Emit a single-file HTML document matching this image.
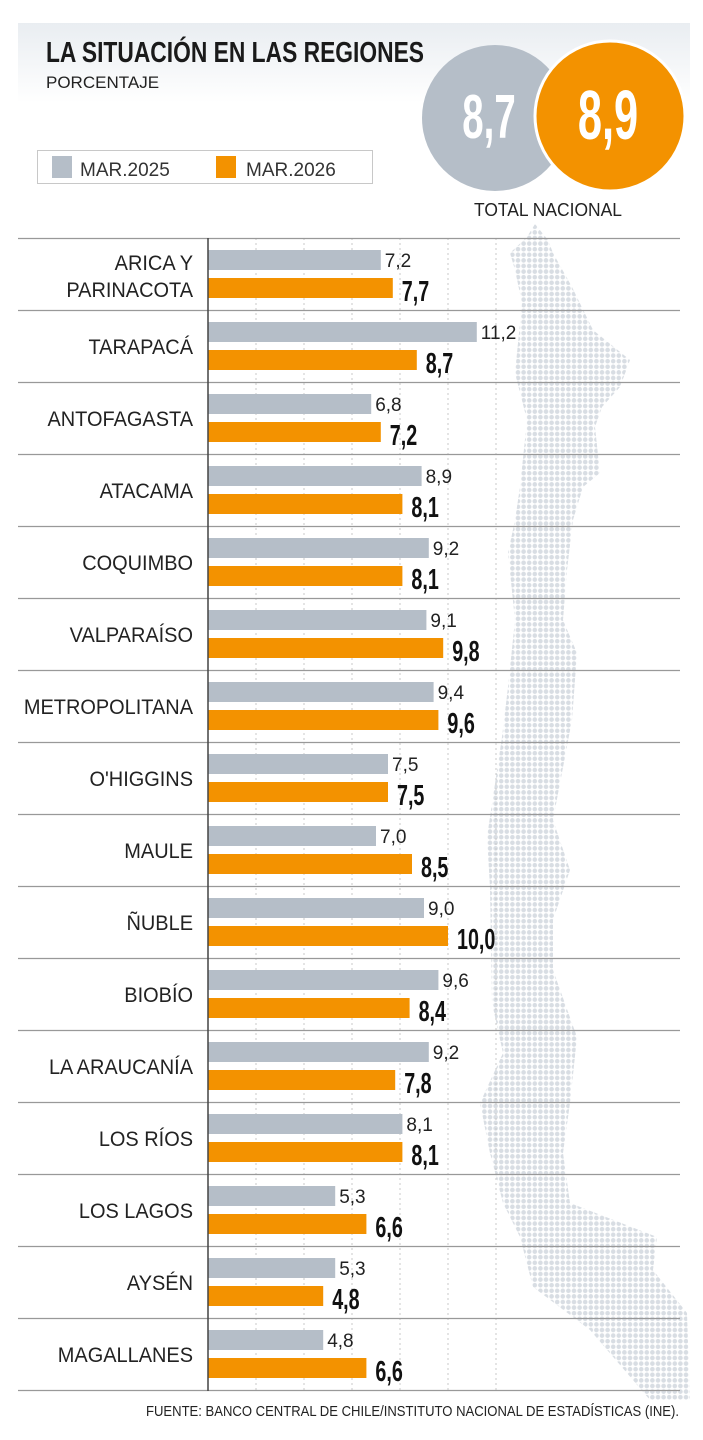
<!DOCTYPE html>
<html><head><meta charset="utf-8"><style>
body{margin:0;background:#fff;width:703px;height:1440px;overflow:hidden}
svg{display:block}
text{font-family:"Liberation Sans Narrow","Liberation Sans",sans-serif}
</style></head><body>
<svg id="chart" width="703" height="1440" viewBox="0 0 703 1440">
<defs>
<linearGradient id="hg" x1="0" y1="0" x2="0" y2="1"><stop offset="0" stop-color="#e9edf1"/><stop offset="1" stop-color="#ffffff"/></linearGradient>
<pattern id="dots" width="5.6" height="5.6" patternUnits="userSpaceOnUse"><circle cx="2.8" cy="2.8" r="2.3" fill="#d8dde3"/></pattern>
</defs>
<rect x="18" y="23" width="672" height="80" fill="url(#hg)"/>
<text x="46" y="62" font-size="29" font-weight="bold" fill="#1a1a1a" textLength="378" lengthAdjust="spacingAndGlyphs">LA SITUACIÓN EN LAS REGIONES</text>
<text x="46" y="88" font-size="17" fill="#222">PORCENTAJE</text>
<polygon fill="url(#dots)" points="535,224 548,240 553,253 572,287 593,330 630,360 620,387 602,407 595,427 600,473 583,487 573,520 567,570 563,620 577,653 572,720 553,820 570,870 553,920 553,970 577,1037 570,1103 563,1153 570,1203 657,1237 653,1270 687,1313 690,1400 650,1400 590,1330 533,1287 520,1237 503,1203 490,1153 480,1103 503,1053 492,1003 490,887 487,837 502,737 508,687 515,620 508,553 515,520 520,487 527,420 515,373 522,303 515,270 510,253 527,237"/>
<g>
<rect x="37.5" y="150.5" width="335" height="33" fill="#fff" stroke="#c8c8c8"/>
<rect x="52" y="156" width="20" height="22" fill="#b5bec8"/>
<text x="80" y="176" font-size="19" fill="#333">MAR.2025</text>
<rect x="216" y="156" width="20" height="22" fill="#f39200"/>
<text x="246" y="176" font-size="19" fill="#333">MAR.2026</text>
</g>
<circle cx="495" cy="118" r="73" fill="#b5bec8"/>
<circle cx="610" cy="116" r="75" fill="#f39200" stroke="#fff" stroke-width="3"/>
<g transform="translate(489,138) scale(0.62,1)"><text x="0" y="0" font-size="62" font-weight="bold" fill="#fff" text-anchor="middle">8,7</text></g>
<g transform="translate(608,139) scale(0.62,1)"><text x="0" y="0" font-size="70" font-weight="bold" fill="#fff" text-anchor="middle">8,9</text></g>
<text x="548" y="216" font-size="18" fill="#222" text-anchor="middle" textLength="148" lengthAdjust="spacingAndGlyphs">TOTAL NACIONAL</text>
<g id="plot"></g>
<text x="679" y="1416" font-size="14.5" fill="#222" text-anchor="end" textLength="533" lengthAdjust="spacingAndGlyphs">FUENTE: BANCO CENTRAL DE CHILE/INSTITUTO NACIONAL DE ESTADÍSTICAS (INE).</text>
</svg>
<script>
const regions = ["ARICA Y|PARINACOTA","TARAPACÁ","ANTOFAGASTA","ATACAMA","COQUIMBO","VALPARAÍSO","METROPOLITANA","O'HIGGINS","MAULE","ÑUBLE","BIOBÍO","LA ARAUCANÍA","LOS RÍOS","LOS LAGOS","AYSÉN","MAGALLANES"];
const values2025 = [7.2,11.2,6.8,8.9,9.2,9.1,9.4,7.5,7.0,9.0,9.6,9.2,8.1,5.3,5.3,4.8];
const values2026 = [7.7,8.7,7.2,8.1,8.1,9.8,9.6,7.5,8.5,10.0,8.4,7.8,8.1,6.6,4.8,6.6];
const gridTicks = [2,4,6,8,10,12];

const NS="http://www.w3.org/2000/svg";
const g=document.getElementById('plot');
const x0=208, pxPer=24.0, top0=238, rowH=72;
const xs=v=>x0+v*pxPer;
const rowY=i=>top0+i*rowH;
const fmt=v=>v.toFixed(1).replace('.',',');
function mk(tag,attrs,parent){const e=document.createElementNS(NS,tag);for(const k in attrs)e.setAttribute(k,attrs[k]);(parent||g).appendChild(e);return e;}

gridTicks.forEach(t=>{
  const l=mk('line',{x1:xs(t),x2:xs(t),y1:top0,y2:rowY(regions.length),stroke:'#c9c9c9','stroke-dasharray':'2,3'});
  
  
});
for(let i=0;i<=regions.length;i++){
  const l=mk('line',{x1:18,x2:680,y1:rowY(i)+0.5,y2:rowY(i)+0.5,stroke:'#999','stroke-width':1.2});
  
  
}
regions.forEach((r,i)=>{
  const y=rowY(i);
  const parts=r.split('|');
  const lg=mk('g',{transform:'translate(193,0) scale(0.95,1)'});
  const lab=mk('text',{x:0,'text-anchor':'end','font-size':21,fill:'#222'},lg);
  
  
  if(parts.length===1){lab.setAttribute('y',y+44);lab.textContent=parts[0];}
  else{
    parts.forEach((p,j)=>{const ts=document.createElementNS(NS,'tspan');ts.setAttribute('x',0);ts.setAttribute('y',y+32+j*27);ts.textContent=p;lab.appendChild(ts);});
  }
  const b1=mk('rect',{x:x0,y:y+12,width:xs(values2025[i])-x0,height:20,fill:'#b5bec8'});
  
  
  const b2=mk('rect',{x:x0,y:y+40,width:xs(values2026[i])-x0,height:20,fill:'#f39200'});
  
  
  const t1=mk('text',{x:xs(values2025[i])+4,y:y+29,'font-size':19,fill:'#222'});
  t1.textContent=fmt(values2025[i]);
  
  
  const vg=mk('g',{transform:'translate('+(xs(values2026[i])+9)+','+(y+63)+') scale(0.68,1)'});
  const t2=mk('text',{x:0,y:0,'font-size':29,'font-weight':'bold',fill:'#111'},vg);
  t2.textContent=fmt(values2026[i]);
  
  
});
const ax=mk('line',{x1:x0,x2:x0,y1:top0,y2:rowY(regions.length)+1,stroke:'#444','stroke-width':1.5});


</script>
</body></html>
